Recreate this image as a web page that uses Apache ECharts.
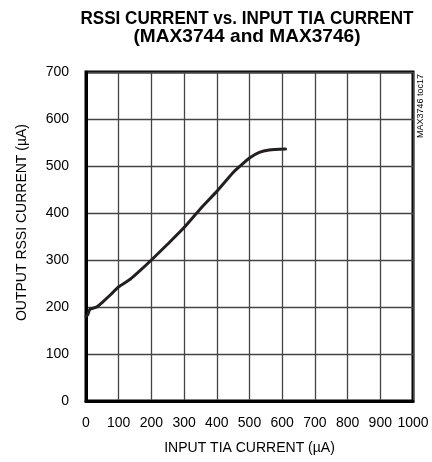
<!DOCTYPE html>
<html>
<head>
<meta charset="utf-8">
<script src="https://cdn.jsdelivr.net/npm/echarts@6/dist/echarts.min.js"></script>
<style>
html,body{margin:0;padding:0;background:#fff;}
#c{width:432px;height:462px;}
</style>
</head>
<body>
<div id="c"></div>
<script>
// Data
const inputTia = [0, 5, 12, 25, 35, 50, 75, 100, 135, 160, 200, 250, 300, 350, 400, 450, 470, 500, 530, 560, 610];
const rssiOut  = [180, 183, 195, 198, 201, 210, 226, 243, 259, 274, 300, 334, 369, 409, 446, 486, 499, 517, 529, 534, 536];
const xTicks = [0, 100, 200, 300, 400, 500, 600, 700, 800, 900, 1000];
const yTicks = [0, 100, 200, 300, 400, 500, 600, 700];
const titleLines = ['RSSI CURRENT vs. INPUT TIA CURRENT', '(MAX3744 and MAX3746)'];
const xName = 'INPUT TIA CURRENT (\u00b5A)';
const yName = 'OUTPUT RSSI CURRENT (\u00b5A)';
const tocLabel = 'MAX3746 toc17';

const pts = inputTia.map((x, i) => [x, rssiOut[i]]);
const chart = echarts.init(document.getElementById('c'), null, {renderer: 'canvas'});
const baseFont = '"Liberation Sans", Arial, sans-serif';

// condensed title: measure and squeeze horizontally to the reference widths
const titleSize = 18.5;
const targetW = [333, 227];
const cv = document.createElement('canvas').getContext('2d');
cv.font = 'bold ' + titleSize + 'px ' + baseFont;
const titleGraphics = titleLines.map((t, i) => {
  const w = cv.measureText(t).width;
  return {
    type: 'text', x: 247, y: [18.5, 36.5][i], scaleX: targetW[i] / w, scaleY: 1,
    style: {text: t, fontFamily: baseFont, fontWeight: 'bold', fontSize: titleSize, fill: '#000', align: 'center', verticalAlign: 'middle'}
  };
});

chart.setOption({
  animation: false,
  backgroundColor: '#fff',
  grid: {left: 86, right: 19, top: 72, bottom: 61, show: true, borderColor: '#000', borderWidth: 3, backgroundColor: 'transparent'},
  xAxis: {
    type: 'value', min: xTicks[0], max: xTicks[xTicks.length - 1], interval: 100,
    name: xName, nameLocation: 'middle', nameGap: 40,
    nameTextStyle: {fontFamily: baseFont, fontSize: 14, color: '#000'},
    axisLine: {show: true, lineStyle: {color: '#000', width: 3}},
    axisTick: {show: false},
    axisLabel: {fontFamily: baseFont, fontSize: 14, color: '#000', margin: 15, formatter: v => String(v)},
    splitLine: {show: true, lineStyle: {color: '#444', width: 1.3}}
  },
  yAxis: {
    type: 'value', min: yTicks[0], max: yTicks[yTicks.length - 1], interval: 100,
    name: yName, nameLocation: 'middle', nameGap: 57,
    nameTextStyle: {fontFamily: baseFont, fontSize: 14, color: '#000', padding: [0, 0, 0, 28]},
    axisLine: {show: true, lineStyle: {color: '#000', width: 3}},
    axisTick: {show: false},
    axisLabel: {fontFamily: baseFont, fontSize: 14, color: '#000', margin: 17, formatter: v => String(v)},
    splitLine: {show: true, lineStyle: {color: '#444', width: 1.3}}
  },
  graphic: titleGraphics.concat([{
    type: 'text', x: 421, y: 106, rotation: Math.PI / 2,
    style: {text: tocLabel, fontFamily: baseFont, fontSize: 9, fill: '#000', align: 'center', verticalAlign: 'middle'}
  }]),
  series: [{
    type: 'line', data: pts, smooth: 0.2, symbol: 'none',
    lineStyle: {color: '#231f20', width: 3, join: 'round', cap: 'round'}
  }]
});
</script>
</body>
</html>
